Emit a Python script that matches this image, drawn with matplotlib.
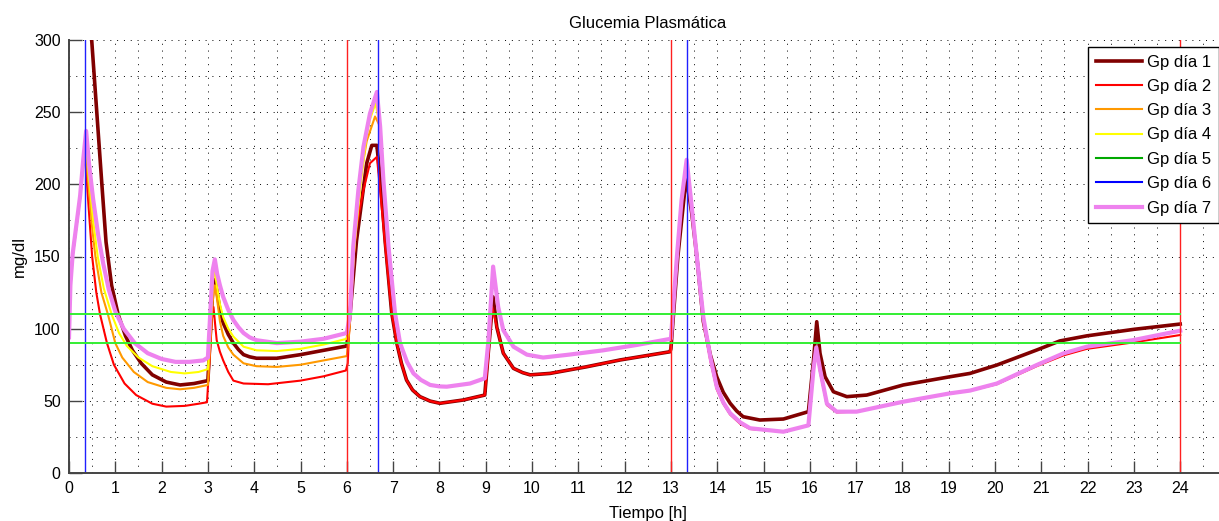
import matplotlib
matplotlib.use('Agg')
import matplotlib.pyplot as plt
from matplotlib.ticker import MultipleLocator

plt.rcParams['font.family'] = ['Liberation Sans', 'DejaVu Sans']

# --- datos (t en horas, Gp en mg/dl) ---

# dia 1
t_d1 = [0, 0.15, 0.3, 0.49, 0.6, 0.71, 0.8, 0.92, 1.06, 1.22, 1.37, 1.56, 1.8, 2.1,
        2.4, 2.7, 3.0, 3.05, 3.1, 3.15, 3.2, 3.26, 3.33, 3.44, 3.55, 3.66, 3.77, 3.9, 4.05,
        4.49, 5.0, 5.5, 6.0, 6.07, 6.21, 6.43, 6.54, 6.65]
gp_d1 = [320, 345, 340, 300, 250, 200, 160, 130, 110, 95, 85, 76, 68, 63,
         61, 62, 64, 95, 125, 134, 125, 113, 104, 96, 90, 85.5, 82, 80.5, 79.5,
         79.5, 82, 85, 88, 110, 161, 214.6, 227, 227]
t_d1_mid = [6.72, 6.83, 6.97, 7.08, 7.18, 7.29, 7.42, 7.58, 7.8, 8.01, 8.52, 8.98, 9.06,
            9.16, 9.24, 9.38, 9.6, 9.8, 9.96, 10.39, 11.18, 11.9, 12.98]
gp_d1_mid = [205, 160, 111, 90, 76, 64.4, 57.5, 52.9, 49.8, 48.3, 50.6, 54, 85,
             122, 101, 83, 72.5, 69.5, 68, 69, 73.6, 78.3, 84]
t_d1_end = [13.0, 13.15, 13.33, 13.45, 13.56, 13.7, 13.85, 13.99, 14.13, 14.28, 14.42, 14.56,
            14.92, 15.43, 15.97, 16.08, 16.15, 16.22, 16.33, 16.51, 16.8, 17.23, 18.02, 19.03,
            19.46, 20.04, 20.9, 21.4, 21.98, 22.99, 24.0]
gp_d1_end = [86, 150, 205, 180, 150, 105, 82, 66.7, 56, 48.3, 43, 39,
             36.7, 37.4, 42.5, 78, 104.8, 83, 66.7, 56.3, 52.9, 54, 61, 66.7,
             69, 74.8, 85.2, 91.5, 95, 99.5, 103.2]

# dia 2
t_d2 = [0, 0.03, 0.08, 0.16, 0.24, 0.3, 0.34, 0.4, 0.5, 0.59, 0.67, 0.82, 0.97, 1.2, 1.45,
        1.8, 2.1, 2.5, 2.8, 2.98, 3.04, 3.08, 3.12, 3.19, 3.26, 3.33, 3.44, 3.55, 3.77, 4.3,
        5.0, 5.5, 5.98, 6.02, 6.1, 6.21, 6.36, 6.5, 6.65]
gp_d2 = [94, 128, 150, 170, 190, 212, 224, 195, 150, 125, 110, 90, 75, 62, 54,
         48, 46, 46.5, 48, 49, 80, 105, 115, 92, 84, 78, 70, 64, 62, 61.5,
         64, 67, 71, 76, 134, 170.6, 196, 214.6, 219]
t_d2_mid = [6.72, 6.83, 6.97, 7.08, 7.18, 7.29, 7.42, 7.58, 7.8, 8.01, 8.52, 8.98, 9.06,
            9.14, 9.24, 9.38, 9.6, 9.8, 9.96, 10.39, 11.18, 11.9, 12.98]
gp_d2_mid = [196, 157, 110.6, 90, 76, 64.4, 57.5, 52.9, 49.8, 48.3, 50.6, 54, 82,
             115, 101, 83, 72.5, 69.5, 68, 69, 73.6, 78.3, 84]
t_d2_end = [13.0, 13.13, 13.23, 13.34, 13.45, 13.56, 13.7, 13.85, 13.99, 14.13, 14.28, 14.5,
            14.71, 15.43, 15.97, 16.08, 16.14, 16.22, 16.37, 16.58, 17.01, 18.02, 19.03, 19.46,
            20.04, 20.9, 21.48, 21.98, 22.99, 24.0]
gp_d2_end = [88, 150, 187, 214, 182, 147, 105, 78, 58, 48, 40.5, 34,
             30.5, 28.6, 33, 72, 86, 70, 47, 42, 42.5, 49.4, 55, 57,
             61.5, 74, 81.5, 86, 90.5, 95.6]

# dia 3
t_d3 = [0, 0.03, 0.08, 0.16, 0.24, 0.31, 0.35, 0.42, 0.5, 0.57, 0.7, 0.84, 1.0, 1.15, 1.4,
        1.7, 2.1, 2.4, 2.7, 3.0, 3.06, 3.1, 3.15, 3.2, 3.26, 3.33, 3.44, 3.55, 3.77, 4.05,
        4.49, 5.0, 5.5, 6.0, 6.06, 6.15, 6.25, 6.43, 6.61]
gp_d3 = [94, 130, 152, 172, 192, 215, 229, 200, 170, 150, 125, 110, 90, 80, 70,
         63, 59, 58, 59, 61, 95, 118, 130, 120, 105, 95, 87, 82, 76, 74,
         73.5, 75, 78, 81, 100, 150, 196, 230, 247]

# dia 4
t_d4 = [0, 0.03, 0.08, 0.16, 0.24, 0.31, 0.36, 0.43, 0.52, 0.62, 0.75, 0.92, 1.08, 1.25, 1.5,
        1.8, 2.2, 2.5, 2.8, 3.0, 3.05, 3.1, 3.14, 3.2, 3.26, 3.33, 3.44, 3.55, 3.77, 4.05,
        4.49, 5.0, 5.5, 6.0, 6.07, 6.16, 6.3, 6.42, 6.5, 6.62]
gp_d4 = [94, 130, 152, 172, 192, 216, 232, 205, 175, 150, 128, 110, 97, 88, 80,
         74, 70, 69, 70, 72, 100, 130, 142, 128, 117, 108, 100, 94.5, 87.5, 85,
         84.5, 86, 89, 93, 108, 155, 200, 232, 245, 256]

# dias 5, 6 y 7 (se superponen)
t_d7 = [0, 0.03, 0.08, 0.16, 0.24, 0.31, 0.37, 0.43, 0.52, 0.63, 0.74, 0.86, 1.0, 1.18, 1.42,
        1.7, 2.0, 2.3, 2.6, 2.9, 3.0, 3.05, 3.1, 3.15, 3.2, 3.26, 3.33, 3.44, 3.55, 3.66,
        3.77, 3.9, 4.05, 4.49, 5.0, 5.5, 6.0, 6.07, 6.14, 6.25, 6.36, 6.5, 6.65]
gp_d7 = [94, 130, 152, 172, 192, 218, 237, 215, 190, 165, 145, 127, 112, 100, 90,
         83, 79, 77, 77, 78, 80, 110, 140, 148, 138, 130, 122, 113, 106, 101,
         97, 94, 92, 90, 91, 93, 97, 110, 157, 196, 226, 249, 264]

# tramo comun de los dias 3-7 despues de las 6.7 h
t_up = [6.72, 6.79, 6.9, 7.04, 7.15, 7.3, 7.44, 7.6, 7.8, 8.0, 8.16, 8.66, 8.98, 9.06, 9.16,
        9.27, 9.38, 9.6, 9.89, 10.24, 10.8, 11.54, 12.26, 13.0, 13.13, 13.23, 13.34, 13.45,
        13.56, 13.7, 13.85, 13.99, 14.13, 14.28, 14.5, 14.71, 15.43, 15.97, 16.08, 16.14,
        16.22, 16.37, 16.58, 17.01, 18.02, 19.03, 19.46, 20.04, 20.9, 21.48, 21.98, 22.99, 24.0]
gp_up = [240, 203, 157, 111, 90, 77, 69, 64.5, 61, 60, 59.8, 62, 65.6, 92, 143,
         115, 99, 87.5, 82, 80, 82, 85, 88.7, 93, 150, 189, 217, 184.5,
         150, 108, 80.6, 59.8, 49, 41.4, 35, 31, 28.6, 33, 72, 87,
         72, 48, 42.5, 42.5, 49.4, 55.2, 57.1, 62, 74.8, 82.9, 87.5, 92.1, 98.6]

labels = ['Gp día 1', 'Gp día 2', 'Gp día 3', 'Gp día 4', 'Gp día 5', 'Gp día 6', 'Gp día 7']
colores = ['#800000', '#ff0000', '#ff9900', '#ffff00', '#00a800', '#0000ff', '#ee82ee']
grosor = [2.6, 1.5, 1.5, 1.5, 1.5, 1.5, 3.0]

t_rojo = [6, 13, 24]          # lineas verticales rojas
t_azul = [0.35, 6.67, 13.35]  # lineas verticales azules
gp_rango = [90, 110]          # rango normal

series_t = [t_d1 + t_d1_mid + t_d1_end,
            t_d2 + t_d2_mid + t_d2_end,
            t_d3 + t_up,
            t_d4 + t_up,
            t_d7 + t_up,
            t_d7 + t_up,
            t_d7 + t_up]
series_gp = [gp_d1 + gp_d1_mid + gp_d1_end,
             gp_d2 + gp_d2_mid + gp_d2_end,
             gp_d3 + gp_up,
             gp_d4 + gp_up,
             gp_d7 + gp_up,
             gp_d7 + gp_up,
             gp_d7 + gp_up]

fig = plt.figure(figsize=(12.19, 5.21), dpi=100)
ax = fig.add_axes([69/1219, 48/521, 1157.5/1219, 433/521])

for t, g, lab, c, lw in zip(series_t, series_gp, labels, colores, grosor):
    ax.plot(t, g, color=c, lw=lw, label=lab, solid_joinstyle='round')

for x in t_rojo:
    ax.axvline(x, color='#ff2020', lw=1.0)
for x in t_azul:
    ax.axvline(x, color='#2020ff', lw=1.0)
for y in gp_rango:
    ax.plot([0, 24], [y, y], color='#33ee33', lw=1.4)

ax.set_xlim(0, 25)
ax.set_ylim(0, 300)
ax.xaxis.set_major_locator(MultipleLocator(1))
ax.xaxis.set_minor_locator(MultipleLocator(0.5))
ax.yaxis.set_major_locator(MultipleLocator(50))
ax.yaxis.set_minor_locator(MultipleLocator(25))
ax.set_xticks([i for i in range(25)])
ax.grid(which='both', color='k', lw=0.7, linestyle=(0, (1, 6)))
ax.set_axisbelow(True)

ax.spines['top'].set_visible(False)
ax.spines['right'].set_visible(False)
for s in ['left', 'bottom']:
    ax.spines[s].set_color('#444444')
    ax.spines[s].set_linewidth(1.4)
ax.tick_params(which='major', direction='in', length=9, width=1.0, color='#444444',
               labelsize=11.5, pad=6)
ax.tick_params(which='minor', length=0)

ax.set_title('Glucemia Plasmática', fontsize=12, pad=9)
ax.set_xlabel('Tiempo [h]', fontsize=12, labelpad=7)
ax.set_ylabel('mg/dl', fontsize=12, labelpad=5)

leg = ax.legend(loc='upper left', bbox_to_anchor=((1088-69)/1157.5, (473-47)/433),
                borderaxespad=0, fancybox=False, framealpha=1, edgecolor='k',
                fontsize=12, handlelength=2.8, handletextpad=0.3, labelspacing=0.56,
                borderpad=0.45)
leg.get_frame().set_linewidth(1.0)

fig.savefig('out.png', dpi=100)
